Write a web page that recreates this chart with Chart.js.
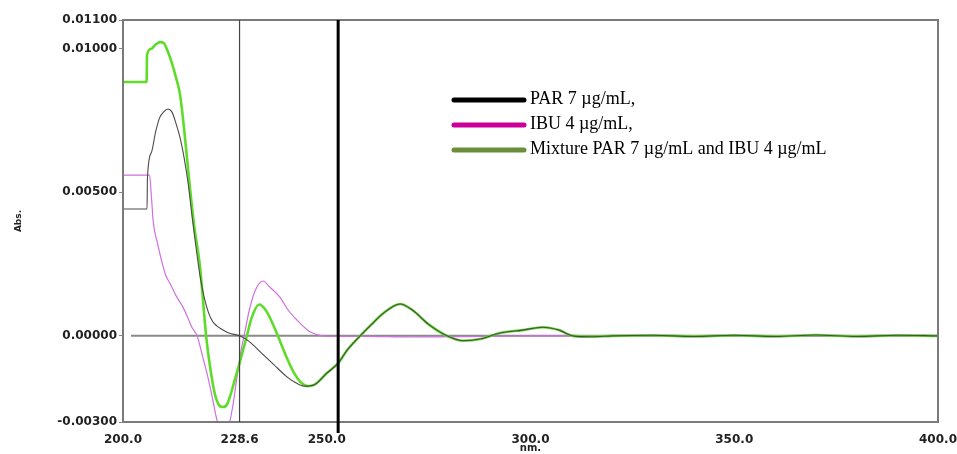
<!DOCTYPE html>
<html>
<head>
<meta charset="utf-8">
<script src="https://cdn.jsdelivr.net/npm/chart.js@4"></script>
<style>
  html, body { margin: 0; padding: 0; background: #fff; }
  #wrap { width: 957px; height: 454px; position: relative; }
</style>
</head>
<body>
<div id="wrap"><canvas id="spectrum"></canvas></div>
<script>
'use strict';

// tick labels
const xTicks = [200, 228.6, 250, 300, 350, 400];
const yTicks = [-0.003, 0, 0.005, 0.010, 0.011];
const markerLines = [228.6, 252.8];

// PAR 7 µg/mL
const parWl = [200, 205.9, 206.0, 207, 208, 209, 210, 211, 212, 213, 214, 215, 216, 217, 218, 219,
  220, 221, 222, 223, 224, 226, 228.6, 231, 234, 237, 240, 242, 244.5, 247, 250, 252.8, 255,
  258.2, 261, 264, 268, 271, 275, 279.5, 283.4, 288, 292.5, 298, 303, 307, 310.4, 315, 320,
  330, 340, 350, 360, 370, 380, 390, 400];
const parAbs = [0.00442, 0.00442, 0.0055, 0.0064, 0.0071, 0.0076, 0.0078, 0.0079, 0.0078, 0.0074,
  0.0069, 0.0062, 0.0053, 0.0041, 0.0030, 0.0020, 0.0013, 0.0008, 0.0005, 0.00035, 0.00025,
  0.0001, 0.0, -0.0002, -0.0006, -0.0010, -0.0014, -0.0016, -0.00175, -0.0017, -0.0013,
  -0.00095, -0.0005, 0.0, 0.0004, 0.0008, 0.00111, 0.0009, 0.0004, 0.0, -0.00017, -0.0001,
  0.0001, 0.0002, 0.0003, 0.0002, 0.0, -0.00003, 0.0, 0.00002, -0.00002, 0.00002, -0.00002,
  0.00003, -0.00002, 0.00002, 0.0];

// IBU 4 µg/mL
const ibuWl = [200, 206.5, 207, 207.4, 208.5, 209.5, 210.5, 211.5, 213, 214.7, 216, 216.9, 218.2,
  219.5, 220.6, 222, 223, 224, 225, 226, 227, 228, 229, 230, 231, 232.5, 234.4, 236, 238.5,
  240.5, 242.7, 245.9, 249, 252, 260, 270, 280, 300, 400];
const ibuAbs = [0.0056, 0.0056, 0.0048, 0.0040, 0.0032, 0.0026, 0.0021, 0.00184, 0.0014, 0.0010,
  0.0006, 0.0003, 0.0, -0.0007, -0.0013, -0.0022, -0.0029, -0.0033, -0.0034, -0.0031, -0.0024,
  -0.0014, -0.0005, 0.0002, 0.0009, 0.0016, 0.00191, 0.0017, 0.00135, 0.0009, 0.00055, 0.00014,
  0.0, -0.00002, -0.00002, -0.00004, -0.00003, 0.0, 0.0];

// Mixture PAR 7 µg/mL and IBU 4 µg/mL
const mixWl = [200, 205.8, 205.9, 207, 208, 209.1, 210, 211, 212, 213, 214, 215, 216.4, 217.5,
  218.9, 220.4, 221.5, 222.5, 223.5, 224.5, 225.5, 226.5, 227.5, 228.6, 230.4, 231.5, 233.4,
  235, 236.5, 238, 240, 242, 243.5, 245.4, 247, 250, 252.8, 255, 258.2, 261, 264, 268, 271,
  275, 279.5, 283.4, 288, 292.5, 298, 303, 307, 310.4, 315, 320, 330, 340, 350, 360, 370, 380,
  390, 400];
const mixAbs = [0.00884, 0.00884, 0.0098, 0.0100, 0.01015, 0.01023, 0.0102, 0.0099, 0.0095,
  0.0090, 0.0084, 0.0072, 0.0052, 0.0038, 0.0024, 0.0, -0.0012, -0.0020, -0.0024, -0.00248,
  -0.0024, -0.0020, -0.0015, -0.00095, 0.0, 0.0006, 0.00109, 0.0009, 0.0005, 0.0, -0.0007,
  -0.0013, -0.0016, -0.00175, -0.0017, -0.0013, -0.00095, -0.0005, 0.0, 0.0004, 0.0008,
  0.00111, 0.0009, 0.0004, 0.0, -0.00017, -0.0001, 0.0001, 0.0002, 0.0003, 0.0002, 0.0,
  -0.00003, 0.0, 0.00002, -0.00002, 0.00002, -0.00002, 0.00003, -0.00002, 0.00002, 0.0];

const legendItems = [
  { text: 'PAR 7 µg/mL,', color: '#000000' },
  { text: 'IBU 4 µg/mL,', color: '#cc0099' },
  { text: 'Mixture PAR 7 µg/mL and IBU 4 µg/mL', color: '#6b8e3a' }
];

function toPoints(xs, ys) {
  return xs.map(function (x, i) { return { x: x, y: ys[i] }; });
}

const tickFont = { family: '"DejaVu Sans", sans-serif', size: 12, weight: 'bold' };

// frame, zero line, marker lines and legend
const overlayPlugin = {
  id: 'overlay',
  beforeDatasetsDraw: function (chart) {
    const ctx = chart.ctx;
    const a = chart.chartArea;
    const y0 = chart.scales.y.getPixelForValue(0);
    ctx.save();
    ctx.strokeStyle = '#8a8a8a';
    ctx.lineWidth = 2;
    ctx.beginPath();
    ctx.moveTo(a.left + 8, y0);
    ctx.lineTo(a.right, y0);
    ctx.stroke();
    ctx.restore();
  },
  afterDatasetsDraw: function (chart) {
    const ctx = chart.ctx;
    const a = chart.chartArea;
    const xs = chart.scales.x;
    ctx.save();
    ctx.strokeStyle = '#7a7a7a';
    ctx.lineWidth = 2;
    ctx.strokeRect(a.left, a.top, a.right - a.left, a.bottom - a.top);

    ctx.strokeStyle = '#444';
    ctx.lineWidth = 1.2;
    let px = xs.getPixelForValue(markerLines[0]);
    ctx.beginPath();
    ctx.moveTo(px, a.top);
    ctx.lineTo(px, a.bottom);
    ctx.stroke();

    ctx.strokeStyle = '#000';
    ctx.lineWidth = 3;
    px = xs.getPixelForValue(markerLines[1]);
    ctx.beginPath();
    ctx.moveTo(px, a.top);
    ctx.lineTo(px, a.bottom + 11);
    ctx.stroke();

    ctx.font = '18px "Liberation Serif", "Times New Roman", serif';
    ctx.textBaseline = 'middle';
    ctx.lineCap = 'round';
    legendItems.forEach(function (item, i) {
      const y = 100 + i * 25;
      ctx.strokeStyle = item.color;
      ctx.lineWidth = 5;
      ctx.beginPath();
      ctx.moveTo(454, y);
      ctx.lineTo(524, y);
      ctx.stroke();
      ctx.fillStyle = '#000';
      ctx.fillText(item.text, 530, y - 1);
    });
    ctx.restore();
  }
};

new Chart(document.getElementById('spectrum'), {
  type: 'line',
  data: {
    datasets: [
      {
        label: 'PAR 7 µg/mL',
        data: toPoints(parWl, parAbs),
        borderColor: '#4a4a4a',
        borderWidth: 1.1,
        pointRadius: 0,
        cubicInterpolationMode: 'monotone',
        order: 0
      },
      {
        label: 'Mixture PAR 7 µg/mL and IBU 4 µg/mL',
        data: toPoints(mixWl, mixAbs),
        borderColor: '#5fdc2a',
        borderWidth: 2.6,
        pointRadius: 0,
        cubicInterpolationMode: 'monotone',
        order: 1
      },
      {
        label: 'IBU 4 µg/mL',
        data: toPoints(ibuWl, ibuAbs),
        borderColor: '#cf6fe0',
        borderWidth: 1.2,
        pointRadius: 0,
        cubicInterpolationMode: 'monotone',
        order: 2
      }
    ]
  },
  options: {
    responsive: true,
    maintainAspectRatio: false,
    animation: false,
    layout: { padding: { top: 20, right: 0, left: 0, bottom: 0 } },
    plugins: {
      legend: { display: false },
      tooltip: { enabled: false }
    },
    scales: {
      x: {
        type: 'linear',
        min: 200,
        max: 400,
        afterBuildTicks: function (scale) {
          scale.ticks = xTicks.map(function (v) { return { value: v }; });
        },
        afterFit: function (scale) {
          scale.height = 32;
          scale.paddingRight = 19;
        },
        grid: { display: false },
        border: { display: false },
        ticks: {
          autoSkip: false,
          maxRotation: 0,
          padding: 3,
          color: '#222',
          font: tickFont,
          callback: function (v) { return Number(v).toFixed(1); }
        },
        title: {
          display: true,
          text: 'nm.',
          color: '#222',
          font: { family: '"DejaVu Sans", sans-serif', size: 10, weight: 'bold' },
          padding: { top: -2, bottom: 0 }
        }
      },
      y: {
        min: -0.003,
        max: 0.011,
        afterBuildTicks: function (scale) {
          scale.ticks = yTicks.map(function (v) { return { value: v }; });
        },
        afterFit: function (scale) { scale.width = 123; },
        grid: { display: true, drawOnChartArea: false, tickLength: 4, color: '#888' },
        border: { display: false },
        ticks: {
          padding: 2,
          color: '#222',
          font: tickFont,
          callback: function (v) { return Number(v).toFixed(5); }
        },
        title: {
          display: true,
          text: 'Abs.',
          color: '#222',
          font: { family: '"DejaVu Sans", sans-serif', size: 9, weight: 'bold' },
          padding: { top: 13, bottom: 0 }
        }
      }
    }
  },
  plugins: [overlayPlugin]
});
</script>
</body>
</html>
